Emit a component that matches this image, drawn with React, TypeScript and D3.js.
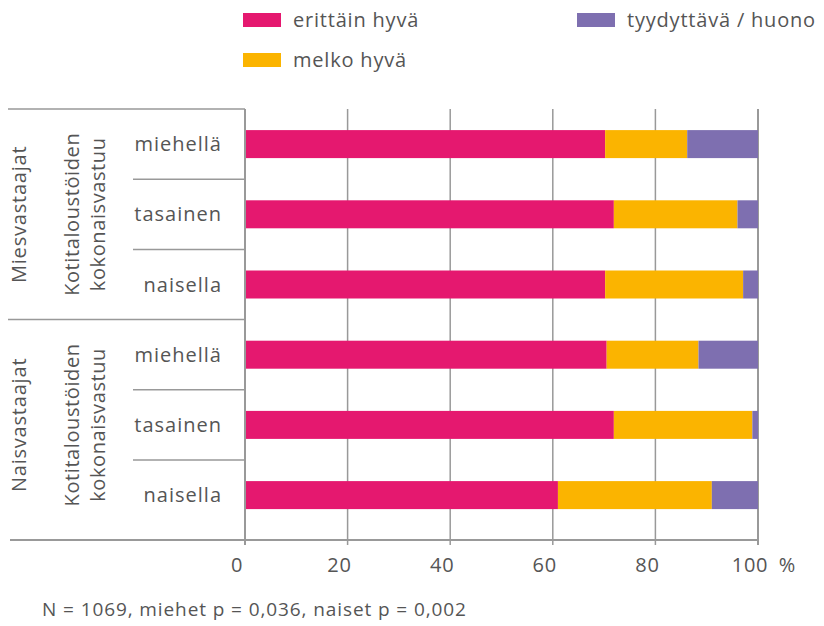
import React from 'react';
import { scaleLinear, scaleBand, stack } from 'd3';

const groups = ['Miesvastaajat', 'Naisvastaajat'];
const subTitle = ['Kotitaloustöiden', 'kokonaisvastuu'];
const categories = ['miehellä', 'tasainen', 'naisella'];
const seriesNames = ['erittäin hyvä', 'melko hyvä', 'tyydyttävä / huono'];
const erittainHyva = [70.2, 71.9, 70.2, 70.5, 71.9, 61.0];
const melkoHyva = [16.0, 24.1, 26.9, 17.9, 27.0, 30.0];
const tyydyttava = [13.8, 4.0, 2.9, 11.6, 1.1, 9.0];
const ticks = [0, 20, 40, 60, 80, 100];
const note = 'N = 1069, miehet p = 0,036, naiset p = 0,002';

const colors = ['#E5186F', '#FBB400', '#7E6FB0'];
const textColor = '#555';
const lineColor = '#999';
const font = '"Open Sans", sans-serif';

const rows = groups.flatMap((g) => categories.map((c) => ({ group: g, cat: c })));
const table = rows.map((r, i) => ({
  key: `${r.group}-${r.cat}`,
  [seriesNames[0]]: erittainHyva[i],
  [seriesNames[1]]: melkoHyva[i],
  [seriesNames[2]]: tyydyttava[i],
}));

const App = () => {
  const x = scaleLinear().domain([0, 100]).range([245, 758]);
  const y = scaleBand()
    .domain(table.map((d) => d.key))
    .range([109, 530.2]);
  const barH = 28;
  const axisY = 540;
  const layers = stack().keys(seriesNames)(table as any);

  const legendPos = [
    { x: 243, y: 13 },
    { x: 243, y: 53 },
    { x: 577, y: 13 },
  ];

  return (
    <svg width={824} height={626} style={{ position: 'absolute', left: 0, top: 0 }} fontFamily={font}>
      {/* legend */}
      {seriesNames.map((s, i) => (
        <g key={s} transform={`translate(${legendPos[i].x},${legendPos[i].y})`}>
          <rect width={38} height={14} fill={colors[i]} />
          <text x={50} y={14} fontSize={20} letterSpacing={0.8} fill={textColor}>{s}</text>
        </g>
      ))}

      {/* grid */}
      {ticks.slice(1).map((t) => (
        <line key={t} x1={x(t)} x2={x(t)} y1={109} y2={axisY + 5} stroke={lineColor} strokeWidth={t === 100 ? 2 : 1.5} />
      ))}

      {/* bars */}
      {layers.map((layer, li) =>
        layer.map((d: any, i) => (
          <rect
            key={`${li}-${i}`}
            x={x(d[0])}
            width={x(d[1]) - x(d[0])}
            y={(y(table[i].key) as number) + y.bandwidth() / 2 - barH / 2}
            height={barH}
            fill={colors[li]}
          />
        ))
      )}

      {/* left structure */}
      <line x1={x(0)} x2={x(0)} y1={109} y2={axisY + 5} stroke={lineColor} strokeWidth={2} />
      <line x1={8} x2={x(0)} y1={109} y2={109} stroke={lineColor} strokeWidth={1.5} />
      <line x1={8} x2={x(0)} y1={y(table[3].key)} y2={y(table[3].key)} stroke={lineColor} strokeWidth={1.5} />
      {table.map((d, i) =>
        i % 3 !== 0 ? (
          <line key={d.key} x1={133} x2={x(0)} y1={y(d.key)} y2={y(d.key)} stroke={lineColor} strokeWidth={1.5} />
        ) : null
      )}
      <line x1={10} x2={x(100)} y1={axisY} y2={axisY} stroke={lineColor} strokeWidth={2} />

      {/* row labels */}
      {rows.map((r, i) => (
        <text
          key={table[i].key}
          x={222}
          y={(y(table[i].key) as number) + y.bandwidth() / 2 + 7}
          textAnchor="end"
          fontSize={20}
          letterSpacing={1}
          fill={textColor}
        >
          {r.cat}
        </text>
      ))}

      {/* group labels */}
      {groups.map((g, gi) => {
        const top = y(table[gi * 3].key) as number;
        const bottom = (y(table[gi * 3 + 2].key) as number) + y.bandwidth();
        const cy = (top + bottom) / 2;
        return (
          <g key={g}>
            <text transform={`translate(26,${cy}) rotate(-90)`} textAnchor="middle" fontSize={20} letterSpacing={0.8} fill={textColor}>{g}</text>
            <text transform={`translate(79,${cy}) rotate(-90)`} textAnchor="middle" fontSize={20} letterSpacing={0.6} fill={textColor}>{subTitle[0]}</text>
            <text transform={`translate(105,${cy}) rotate(-90)`} textAnchor="middle" fontSize={20} letterSpacing={0.6} fill={textColor}>{subTitle[1]}</text>
          </g>
        );
      })}

      {/* axis labels */}
      {ticks.map((t) => (
        <text key={t} x={x(t) - 8} y={572} textAnchor="middle" fontSize={20} letterSpacing={0.8} fill={textColor}>{t}</text>
      ))}
      <text x={787} y={572} textAnchor="middle" fontSize={20} fill={textColor}>%</text>

      <text x={42} y={616} fontSize={19} letterSpacing={0.9} fill={textColor}>{note}</text>
    </svg>
  );
};

export default App;
